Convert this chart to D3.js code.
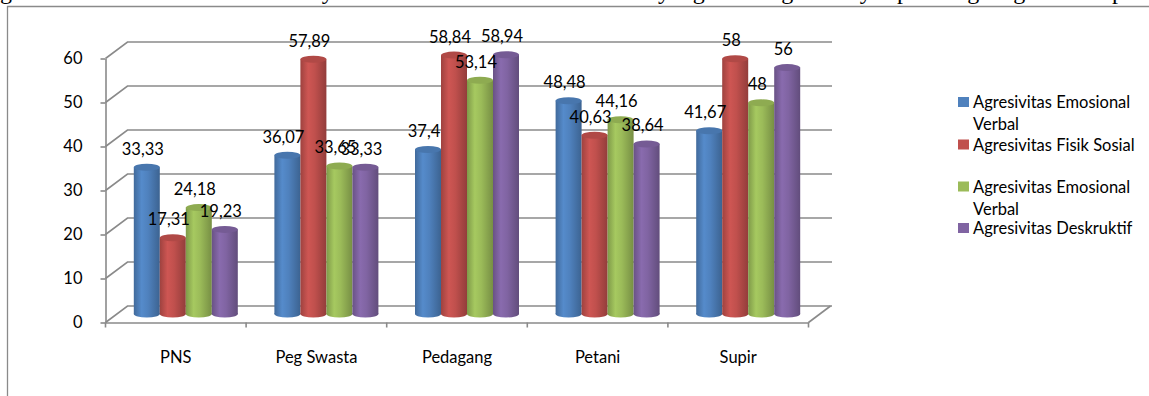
<!DOCTYPE html>
<html>
<head>
<meta charset="utf-8">
<script src="https://cdn.jsdelivr.net/npm/d3@7"></script>
<style>
  body { margin: 0; background: #fff; }
  svg { display: block; }
</style>
</head>
<body>
<svg id="chart" width="1149" height="396"></svg>
<script>
// Occupational groups (x axis)
const categories = ["PNS", "Peg Swasta", "Pedagang", "Petani", "Supir"];

// Series names, in legend order
const seriesNames = [
  "Agresivitas Emosional Verbal",
  "Agresivitas Fisik Sosial",
  "Agresivitas Emosional Verbal",
  "Agresivitas Deskruktif"
];

// Percentages per occupational group
const emosionalVerbalA = [33.33, 36.07, 37.4, 48.48, 41.67];
const fisikSosial      = [17.31, 57.89, 58.84, 40.63, 58];
const emosionalVerbalB = [24.18, 33.65, 53.14, 44.16, 48];
const deskruktif       = [19.23, 33.33, 58.94, 38.64, 56];

// Value axis ticks
const yTicks = [0, 10, 20, 30, 40, 50, 60];

const seriesValues = [emosionalVerbalA, fisikSosial, emosionalVerbalB, deskruktif];
const seriesColors = ["#4F81BD", "#C0504D", "#9BBB59", "#8064A2"];

const W = 1149, H = 396;
const FONT = "Lato, 'Open Sans', sans-serif";
const FS = 16.5;
const GRID = "#8a8a8a";

const svg = d3.select("#chart");
svg.append("rect").attr("width", W).attr("height", H).attr("fill", "#fff");

// Running text of the page above the chart, only its lower edge is visible
const captionWords = [
  ["gi", 0], ["dari kelima status tersebut", 18], ["hanya", 287],
  ["skor rata-rata kelima status", 350], ["yang", 658], ["lagi", 764],
  ["hanya", 825], ["pada", 897], ["lagi", 950], ["lagi", 996], ["pula", 1112]
];
const caption = svg.append("text")
  .attr("font-family", "'Liberation Serif', 'Times New Roman', serif")
  .attr("font-size", 24)
  .attr("y", -1)
  .attr("fill", "#000");
captionWords.forEach(([w, px]) => caption.append("tspan").attr("x", px).text(w));

// Chart area border
svg.append("path")
  .attr("d", `M7.5,${H} V6.5 H${W}`)
  .attr("fill", "none")
  .attr("stroke", GRID)
  .attr("stroke-width", 1.3);

// Scales
const x = d3.scaleBand().domain(categories).range([105.5, 808.5]);
const y = d3.scaleLinear().domain([0, 60]).range([322.5, 58.5]);
const depth = { dx: 22, dy: -16.5 };   // back wall offset
const mid = { dx: 10, dy: -8.5 };      // bars stand halfway into the depth
const barW = 26;

// Walls: gridlines on the back wall, joined to the front axis on the side wall
const walls = svg.append("g")
  .attr("fill", "none")
  .attr("stroke", GRID)
  .attr("stroke-width", 1.6);
yTicks.forEach(t => {
  walls.append("path")
    .attr("d", `M105.5,${y(t)} L${105.5 + depth.dx},${y(t) + depth.dy} H832`);
});
// Floor right edge
walls.append("path")
  .attr("d", `M808.5,${y(0)} L${808.5 + depth.dx},${y(0) + depth.dy}`);

// Value axis
const yAxis = svg.append("g")
  .attr("transform", "translate(105.5,0)")
  .call(d3.axisLeft(y).tickValues(yTicks).tickSize(5).tickSizeOuter(0).tickPadding(18)
    .tickFormat(d3.format("d")));
yAxis.select(".domain").attr("stroke", GRID).attr("stroke-width", 1.6);
yAxis.selectAll(".tick line").attr("stroke", GRID).attr("stroke-width", 1.6);
yAxis.selectAll(".tick text")
  .attr("font-family", FONT).attr("font-size", FS).attr("fill", "#000");

// Category axis
const xAxis = svg.append("g")
  .attr("transform", `translate(0,${y(0)})`)
  .call(d3.axisBottom(x).tickSize(0).tickSizeOuter(0).tickPadding(29));
xAxis.select(".domain").attr("stroke", GRID).attr("stroke-width", 1.6);
xAxis.selectAll(".tick text")
  .attr("font-family", FONT).attr("font-size", FS).attr("fill", "#000");
// Tick marks between categories
const bounds = categories.map(c => x(c)).concat(x.range()[1]);
xAxis.selectAll(".bound").data(bounds).join("line")
  .attr("class", "bound")
  .attr("x1", d => d).attr("x2", d => d)
  .attr("y1", 0).attr("y2", 5)
  .attr("stroke", GRID).attr("stroke-width", 1.6);

// Cylinder shading
const defs = svg.append("defs");
seriesColors.forEach((c, i) => {
  const base = d3.color(c);
  const g = defs.append("linearGradient").attr("id", "cyl" + i)
    .attr("x1", 0).attr("x2", 1).attr("y1", 0).attr("y2", 0);
  g.append("stop").attr("offset", "0%").attr("stop-color", base.darker(0.55));
  g.append("stop").attr("offset", "30%").attr("stop-color", base.brighter(0.2));
  g.append("stop").attr("offset", "55%").attr("stop-color", base);
  g.append("stop").attr("offset", "100%").attr("stop-color", base.darker(0.75));
});

const fmt = v => String(v).replace(".", ",");

// Bars
const rows = [];
categories.forEach((cat, ci) => {
  seriesValues.forEach((vals, si) => {
    const v = vals[ci];
    const cx = x(cat) + x.bandwidth() / 2 + mid.dx + (si - 1.5) * barW;
    rows.push({ cat, si, v, cx, top: y(v) + mid.dy, base: y(0) + mid.dy });
  });
});

const bars = svg.append("g");
rows.forEach(d => {
  const g = bars.append("g");
  g.append("ellipse")
    .attr("cx", d.cx).attr("cy", d.base).attr("rx", barW / 2).attr("ry", 3.5)
    .attr("fill", `url(#cyl${d.si})`);
  g.append("rect")
    .attr("x", d.cx - barW / 2).attr("y", d.top)
    .attr("width", barW).attr("height", d.base - d.top)
    .attr("fill", `url(#cyl${d.si})`);
  g.append("ellipse")
    .attr("cx", d.cx).attr("cy", d.top).attr("rx", barW / 2).attr("ry", 3.5)
    .attr("fill", d3.color(seriesColors[d.si]).darker(0.25));
});

// Value labels
svg.append("g").selectAll("text").data(rows).join("text")
  .attr("x", d => d.cx - 4)
  .attr("y", d => d.top - 18.5)
  .attr("text-anchor", "middle")
  .attr("dominant-baseline", "central")
  .attr("font-family", FONT).attr("font-size", FS).attr("fill", "#000")
  .text(d => fmt(d.v));

// Legend
const legend = svg.append("g").attr("transform", "translate(958,0)");
const legendY = [102, 144.5, 186.5, 228];
seriesNames.forEach((name, i) => {
  const cy = legendY[i];
  legend.append("rect")
    .attr("x", 0).attr("y", cy - 5).attr("width", 11).attr("height", 10)
    .attr("fill", seriesColors[i]);
  const t = legend.append("text")
    .attr("font-family", FONT).attr("font-size", FS).attr("fill", "#000");
  // wrap the name to the legend width
  const words = name.split(" ");
  let line = [], lineNo = 0;
  let span = t.append("tspan").attr("x", 15).attr("y", cy).attr("dominant-baseline", "central");
  words.forEach(w => {
    line.push(w);
    span.text(line.join(" "));
    if (span.node().getComputedTextLength() > 176 && line.length > 1) {
      line.pop();
      span.text(line.join(" "));
      line = [w];
      lineNo++;
      span = t.append("tspan").attr("x", 15).attr("y", cy + lineNo * 22)
        .attr("dominant-baseline", "central").text(w);
    }
  });
});
</script>
</body>
</html>
